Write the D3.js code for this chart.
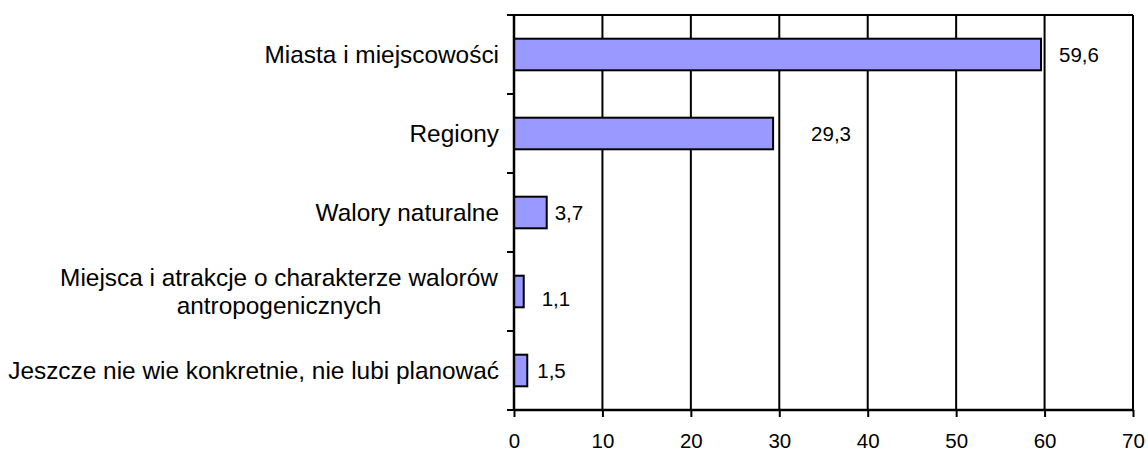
<!DOCTYPE html>
<html>
<head>
<meta charset="utf-8">
<script src="https://cdn.jsdelivr.net/npm/d3@7"></script>
<style>
  body { margin: 0; background: #fff; }
  text { font-family: "Liberation Sans", Arial, sans-serif; fill: #000; }
</style>
</head>
<body>
<div id="chart"></div>
<script>
const chartWidth = 1148;
const chartHeight = 452;

const margin = { top: 15, bottom: 42, left: 514, right: 15 };

// data
const categories = [
  ["Miasta i miejscowości"],
  ["Regiony"],
  ["Walory naturalne"],
  ["Miejsca i atrakcje o charakterze walorów", "antropogenicznych"],
  ["Jeszcze nie wie konkretnie, nie lubi planować"]
];
const values = [59.6, 29.3, 3.7, 1.1, 1.5];
const valueLabels = ["59,6", "29,3", "3,7", "1,1", "1,5"];
const xTicks = [0, 10, 20, 30, 40, 50, 60, 70];

// the labels were moved by hand in the original, nudges in px
const labelDx = [18, 38, 8, 18, 10];
const labelDy = [0, 0, 0, 7, 0];

const w = chartWidth - margin.left - margin.right;
const h = chartHeight - margin.top - margin.bottom;

const svg = d3.select("#chart").append("svg")
  .attr("width", chartWidth)
  .attr("height", chartHeight);

const g = svg.append("g")
  .attr("transform", "translate(" + margin.left + "," + margin.top + ")");

const x = d3.scaleLinear().domain([0, 70]).range([0, w]);
const y = d3.scaleBand().domain(d3.range(values.length)).range([0, h]).paddingInner(0.6).paddingOuter(0.3);
const band = h / values.length;

// grid lines
g.selectAll(".grid")
  .data(xTicks.slice(1))
  .enter().append("line")
  .attr("x1", d => x(d)).attr("x2", d => x(d))
  .attr("y1", 0).attr("y2", h)
  .attr("stroke", "#000").attr("stroke-width", 2);

// top border
g.append("line")
  .attr("x1", 0).attr("x2", w).attr("y1", 0).attr("y2", 0)
  .attr("stroke", "#000").attr("stroke-width", 2);

// bars
g.selectAll(".bar")
  .data(values)
  .enter().append("rect")
  .attr("x", x(0))
  .attr("y", (d, i) => y(i))
  .attr("width", d => x(d) - x(0))
  .attr("height", y.bandwidth())
  .attr("fill", "#9999ff")
  .attr("stroke", "#000")
  .attr("stroke-width", 2);

// value labels
g.selectAll(".val")
  .data(values)
  .enter().append("text")
  .attr("x", (d, i) => x(d) + labelDx[i])
  .attr("y", (d, i) => y(i) + y.bandwidth() / 2 + labelDy[i])
  .attr("dy", "0.35em")
  .style("font-size", "20.5px")
  .text((d, i) => valueLabels[i]);

// x axis
const xAxis = d3.axisBottom(x).tickValues(xTicks).tickSize(7).tickPadding(16);
const gx = g.append("g")
  .attr("transform", "translate(0," + h + ")")
  .call(xAxis);
gx.attr("font-family", null);
gx.select(".domain").attr("stroke-width", 2.5).attr("d", "M0,0H" + w);
gx.selectAll(".tick line").attr("stroke-width", 2);
gx.selectAll("text").style("font-size", "20.5px");

// y axis: ticks at band edges
g.append("line")
  .attr("x1", 0).attr("x2", 0).attr("y1", 0).attr("y2", h)
  .attr("stroke", "#000").attr("stroke-width", 2.5);
g.selectAll(".ytick")
  .data(d3.range(values.length + 1))
  .enter().append("line")
  .attr("x1", -7).attr("x2", 0)
  .attr("y1", d => d * band).attr("y2", d => d * band)
  .attr("stroke", "#000").attr("stroke-width", 2);

// category labels: single lines right-aligned, wrapped ones centred
const cat = g.selectAll(".cat")
  .data(categories)
  .enter().append("text")
  .style("font-size", "24.4px")
  .attr("text-anchor", d => d.length > 1 ? "middle" : "end")
  .attr("transform", (d, i) => "translate(" + (d.length > 1 ? -235 : -15) + "," + (y(i) + y.bandwidth() / 2) + ")");

cat.each(function(lines) {
  const t = d3.select(this);
  const lh = 28;
  lines.forEach((line, j) => {
    t.append("tspan")
      .attr("x", 0)
      .attr("y", (j - (lines.length - 1) / 2) * lh)
      .attr("dy", "0.35em")
      .text(line);
  });
});
</script>
</body>
</html>
